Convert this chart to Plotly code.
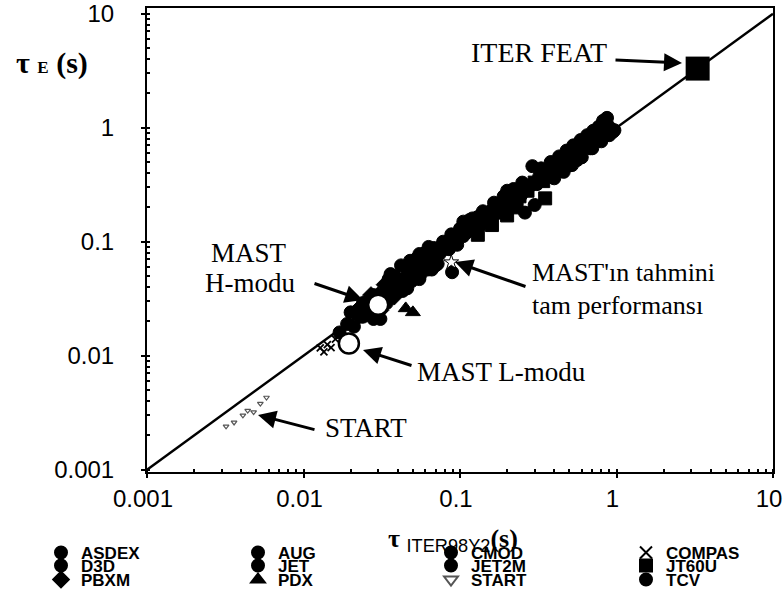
import plotly.graph_objects as go

# ---------------- data ----------------
x_ticks = [0.001, 0.01, 0.1, 1, 10]
x_tick_labels = ["0.001", "0.01", "0.1", "1", "10"]
y_ticks = [0.001, 0.01, 0.1, 1, 10]
y_tick_labels = ["0.001", "0.01", "0.1", "1", "10"]

diag_x = [0.001, 10]
diag_y = [0.001, 10]

asdex_x = [0.034, 0.040, 0.047, 0.053, 0.060, 0.068, 0.075, 0.083, 0.092, 0.100, 0.056, 0.072, 0.028, 0.035,
           0.038, 0.045, 0.052, 0.060, 0.068, 0.078, 0.088, 0.036, 0.042, 0.048, 0.055, 0.063, 0.105]
asdex_y = [0.038, 0.046, 0.050, 0.063, 0.070, 0.074, 0.090, 0.092, 0.100, 0.112, 0.052, 0.064, 0.034, 0.047,
           0.050, 0.060, 0.070, 0.080, 0.088, 0.100, 0.116, 0.052, 0.062, 0.068, 0.078, 0.090, 0.150]
aug_x = [0.042, 0.050, 0.058, 0.065, 0.074, 0.085, 0.096, 0.110, 0.125, 0.140, 0.160, 0.180, 0.205, 0.235, 0.115, 0.130, 0.089,
         0.046, 0.055, 0.066]
aug_y = [0.040, 0.053, 0.060, 0.060, 0.078, 0.086, 0.094, 0.120, 0.135, 0.150, 0.175, 0.185, 0.215, 0.245, 0.155, 0.165, 0.054,
         0.039, 0.047, 0.057]
cmod_x = [0.024, 0.029, 0.034, 0.039, 0.043, 0.049, 0.055, 0.062, 0.070, 0.031]
cmod_y = [0.022, 0.027, 0.029, 0.036, 0.037, 0.045, 0.049, 0.057, 0.062, 0.021]
compas_x = [0.0128, 0.0135, 0.0142, 0.0150, 0.0160]
compas_y = [0.0117, 0.0108, 0.0125, 0.0118, 0.0140]
d3d_x = [0.062, 0.078, 0.092, 0.105, 0.120, 0.135, 0.150, 0.170, 0.190, 0.215, 0.245, 0.275, 0.310, 0.350, 0.200, 0.260, 0.300,
         0.100, 0.120, 0.140, 0.165, 0.190, 0.220, 0.250]
d3d_y = [0.070, 0.085, 0.105, 0.112, 0.128, 0.140, 0.160, 0.190, 0.205, 0.225, 0.255, 0.300, 0.320, 0.360, 0.280, 0.180, 0.210,
         0.130, 0.160, 0.185, 0.220, 0.250, 0.290, 0.330]
jet_x = [0.160, 0.190, 0.230, 0.260, 0.290, 0.320, 0.360, 0.400, 0.440, 0.490, 0.540, 0.600, 0.660, 0.720, 0.780, 0.840, 0.900, 0.950, 0.290, 0.820, 0.870,
         0.330, 0.380, 0.430, 0.480, 0.530, 0.590, 0.650, 0.710, 0.770, 0.850]
jet_y = [0.190, 0.215, 0.260, 0.280, 0.320, 0.370, 0.400, 0.450, 0.500, 0.540, 0.600, 0.690, 0.720, 0.800, 0.900, 0.950, 0.980, 0.920, 0.460, 1.150, 1.220,
         0.440, 0.500, 0.560, 0.630, 0.700, 0.780, 0.860, 0.940, 1.020, 1.100]
jet2m_x = [0.310, 0.350, 0.390, 0.430, 0.480, 0.530, 0.580, 0.640, 0.700, 0.760, 0.820, 0.880, 0.930, 0.560, 0.680,
           0.400, 0.460, 0.520, 0.600, 0.700, 0.800, 0.900, 0.970]
jet2m_y = [0.330, 0.370, 0.420, 0.460, 0.530, 0.560, 0.640, 0.700, 0.750, 0.830, 0.880, 1.050, 0.970, 0.520, 0.660,
           0.360, 0.410, 0.470, 0.550, 0.660, 0.760, 0.860, 0.950]
jt60u_x = [0.125, 0.145, 0.165, 0.185, 0.210, 0.240, 0.270, 0.300, 0.340, 0.380, 0.420, 0.470, 0.520, 0.580, 0.350,
           0.130, 0.160, 0.200, 0.230]
jt60u_y = [0.145, 0.150, 0.180, 0.200, 0.240, 0.250, 0.280, 0.330, 0.340, 0.400, 0.440, 0.470, 0.560, 0.600, 0.240,
           0.115, 0.140, 0.170, 0.200]
pbxm_x = [0.022, 0.026, 0.030, 0.033, 0.036, 0.040, 0.044, 0.048, 0.031, 0.038, 0.027, 0.033]
pbxm_y = [0.025, 0.030, 0.034, 0.031, 0.040, 0.043, 0.040, 0.052, 0.025, 0.033, 0.034, 0.042]
pdx_x = [0.027, 0.032, 0.035, 0.041, 0.046, 0.052, 0.058, 0.066, 0.045, 0.050]
pdx_y = [0.031, 0.036, 0.045, 0.048, 0.055, 0.058, 0.067, 0.080, 0.026, 0.024]
start_x = [0.0032, 0.0036, 0.0041, 0.0044, 0.0048, 0.0053, 0.0058]
start_y = [0.0024, 0.0026, 0.0030, 0.0033, 0.0032, 0.0038, 0.0043]
tcv_x = [0.017, 0.019, 0.021, 0.023, 0.026, 0.028, 0.025, 0.022, 0.020, 0.024]
tcv_y = [0.016, 0.019, 0.018, 0.022, 0.024, 0.021, 0.027, 0.024, 0.024, 0.029]

iter_x = [3.3]
iter_y = [3.3]
mast_h_x = [0.030]
mast_h_y = [0.028]
mast_l_x = [0.0195]
mast_l_y = [0.0128]
mast_pred_x = [0.088]
mast_pred_y = [0.066]

legend_rows = [["ASDEX", "AUG", "CMOD", "COMPAS"],
               ["D3D", "JET", "JET2M", "JT60U"],
               ["PBXM", "PDX", "START", "TCV"]]

# ---------------- figure ----------------
W, H = 783, 594
L, R, T, B = 147, 773, 8, 472


def px(xp):
    return (xp - L) / (R - L)


def py(yp):
    return (B - yp) / (B - T)


fig = go.Figure()
fig.add_trace(go.Scatter(x=diag_x, y=diag_y, mode="lines",
                         line=dict(color="black", width=2.5),
                         showlegend=False, hoverinfo="skip"))

machines = {
    "ASDEX": (asdex_x, asdex_y, "circle"),
    "AUG": (aug_x, aug_y, "circle"),
    "CMOD": (cmod_x, cmod_y, "circle"),
    "COMPAS": (compas_x, compas_y, "x-thin-open"),
    "D3D": (d3d_x, d3d_y, "circle"),
    "JET": (jet_x, jet_y, "circle"),
    "JET2M": (jet2m_x, jet2m_y, "circle"),
    "JT60U": (jt60u_x, jt60u_y, "square"),
    "PBXM": (pbxm_x, pbxm_y, "diamond"),
    "PDX": (pdx_x, pdx_y, "triangle-up"),
    "START": (start_x, start_y, "triangle-down-open"),
    "TCV": (tcv_x, tcv_y, "circle"),
}
col_text_x = [90, 287, 480, 675]
row_y = [553, 566, 580]

sans = "Liberation Sans, Arial, sans-serif"
serif = "Liberation Serif, Times New Roman, serif"
legends = {}
k = 0
for r, row in enumerate(legend_rows):
    for c, name in enumerate(row):
        k += 1
        key = "legend" if k == 1 else "legend%d" % k
        legends[key] = dict(x=px(col_text_x[c] - 49), y=py(row_y[r]), xanchor="left", yanchor="middle",
                            bgcolor="rgba(0,0,0,0)", borderwidth=0, itemsizing="constant",
                            font=dict(family=sans, size=17, color="black", weight="bold"))
        xs, ys, sym = machines[name]
        if name == "START":
            mk = dict(symbol=sym, size=5, color="#555", line=dict(color="#555", width=1.2))
        elif name == "COMPAS":
            mk = dict(symbol=sym, size=7, color="black", line=dict(color="black", width=1.8))
        else:
            mk = dict(symbol=sym, size=13, color="black", line=dict(color="black", width=1))
        fig.add_trace(go.Scatter(x=xs, y=ys, mode="markers", name=name, legend=key,
                                 marker=mk, hoverinfo="skip"))

fig.add_trace(go.Scatter(x=iter_x, y=iter_y, mode="markers", showlegend=False,
                         marker=dict(symbol="square", size=24, color="black"), hoverinfo="skip"))
fig.add_trace(go.Scatter(x=mast_h_x + mast_l_x, y=mast_h_y + mast_l_y, mode="markers",
                         showlegend=False, hoverinfo="skip",
                         marker=dict(symbol="circle", size=20, color="white",
                                     line=dict(color="black", width=2.5))))
fig.add_trace(go.Scatter(x=mast_pred_x, y=mast_pred_y, mode="markers", showlegend=False,
                         hoverinfo="skip",
                         marker=dict(symbol="star", size=11, color="white",
                                     line=dict(color="black", width=1))))

ann = []


def text(t, x, y, xa="center", size=27):
    ann.append(dict(text=t, x=px(x), y=py(y), xref="paper", yref="paper",
                    xanchor=xa, yanchor="middle", showarrow=False,
                    font=dict(family=serif, size=size, color="black")))


def arrow(tip, tail):
    ann.append(dict(text="", x=px(tip[0]), y=py(tip[1]), xref="paper", yref="paper",
                    ax=tail[0] - tip[0], ay=tail[1] - tip[1], showarrow=True,
                    arrowhead=2, arrowsize=1.2, arrowwidth=3, arrowcolor="black",
                    standoff=0, startstandoff=0))


text("ITER FEAT", 539, 52, size=28)
arrow((682, 63), (614, 60))
text("MAST", 249, 253)
text("H-modu", 250, 283)
arrow((363, 300), (313, 283))
text("MAST L-modu", 415, 372, "left")
arrow((363, 350), (413, 366))
text("START", 323, 428, "left")
arrow((258, 415), (316, 430))
text("MAST'ın tahmini", 530, 272, "left", size=26)
text("tam performansı", 530, 305, "left", size=26)
arrow((455, 262), (527, 287))

# axis titles
ann.append(dict(text="<b>τ</b> <span style='font-size:17px'><b>E</b></span> <b>(s)</b>",
                x=px(52), y=py(63), xref="paper", yref="paper", showarrow=False,
                xanchor="center", yanchor="middle",
                font=dict(family=serif, size=30, color="black")))
ann.append(dict(text="<b>τ</b> <sub><span style='font-family:Liberation Sans'>ITER98Y2</span></sub><b>(s)</b>",
                x=px(453), y=py(540), xref="paper", yref="paper", showarrow=False,
                xanchor="center", yanchor="middle",
                font=dict(family=serif, size=26, color="black")))

axis_common = dict(type="log", showgrid=False, zeroline=False,
                   showline=True, linecolor="black", linewidth=2, mirror=True,
                   ticks="outside", ticklen=4, tickwidth=2, tickcolor="black",
                   ticklabeloverflow="allow",
                   tickfont=dict(family=sans, size=24, color="black"),
                   minor=dict(ticks="inside", ticklen=3, tickcolor="black", dtick="D1", showgrid=False))
fig.update_xaxes(**axis_common, range=[-3, 1], tickvals=x_ticks, ticktext=x_tick_labels,
                 ticklabelshift=-4)
fig.update_yaxes(**axis_common, range=[-3.02, 1.05], tickvals=y_ticks, ticktext=y_tick_labels,
                 ticklabelstandoff=22)

fig.update_layout(
    width=W, height=H,
    margin=dict(l=L, r=W - R, t=T, b=H - B, autoexpand=False),
    paper_bgcolor="white", plot_bgcolor="white",
    annotations=ann,
    **legends,
)

fig.write_html("out.html", config={"displayModeBar": False},
               post_script="document.body.style.margin='0';")
